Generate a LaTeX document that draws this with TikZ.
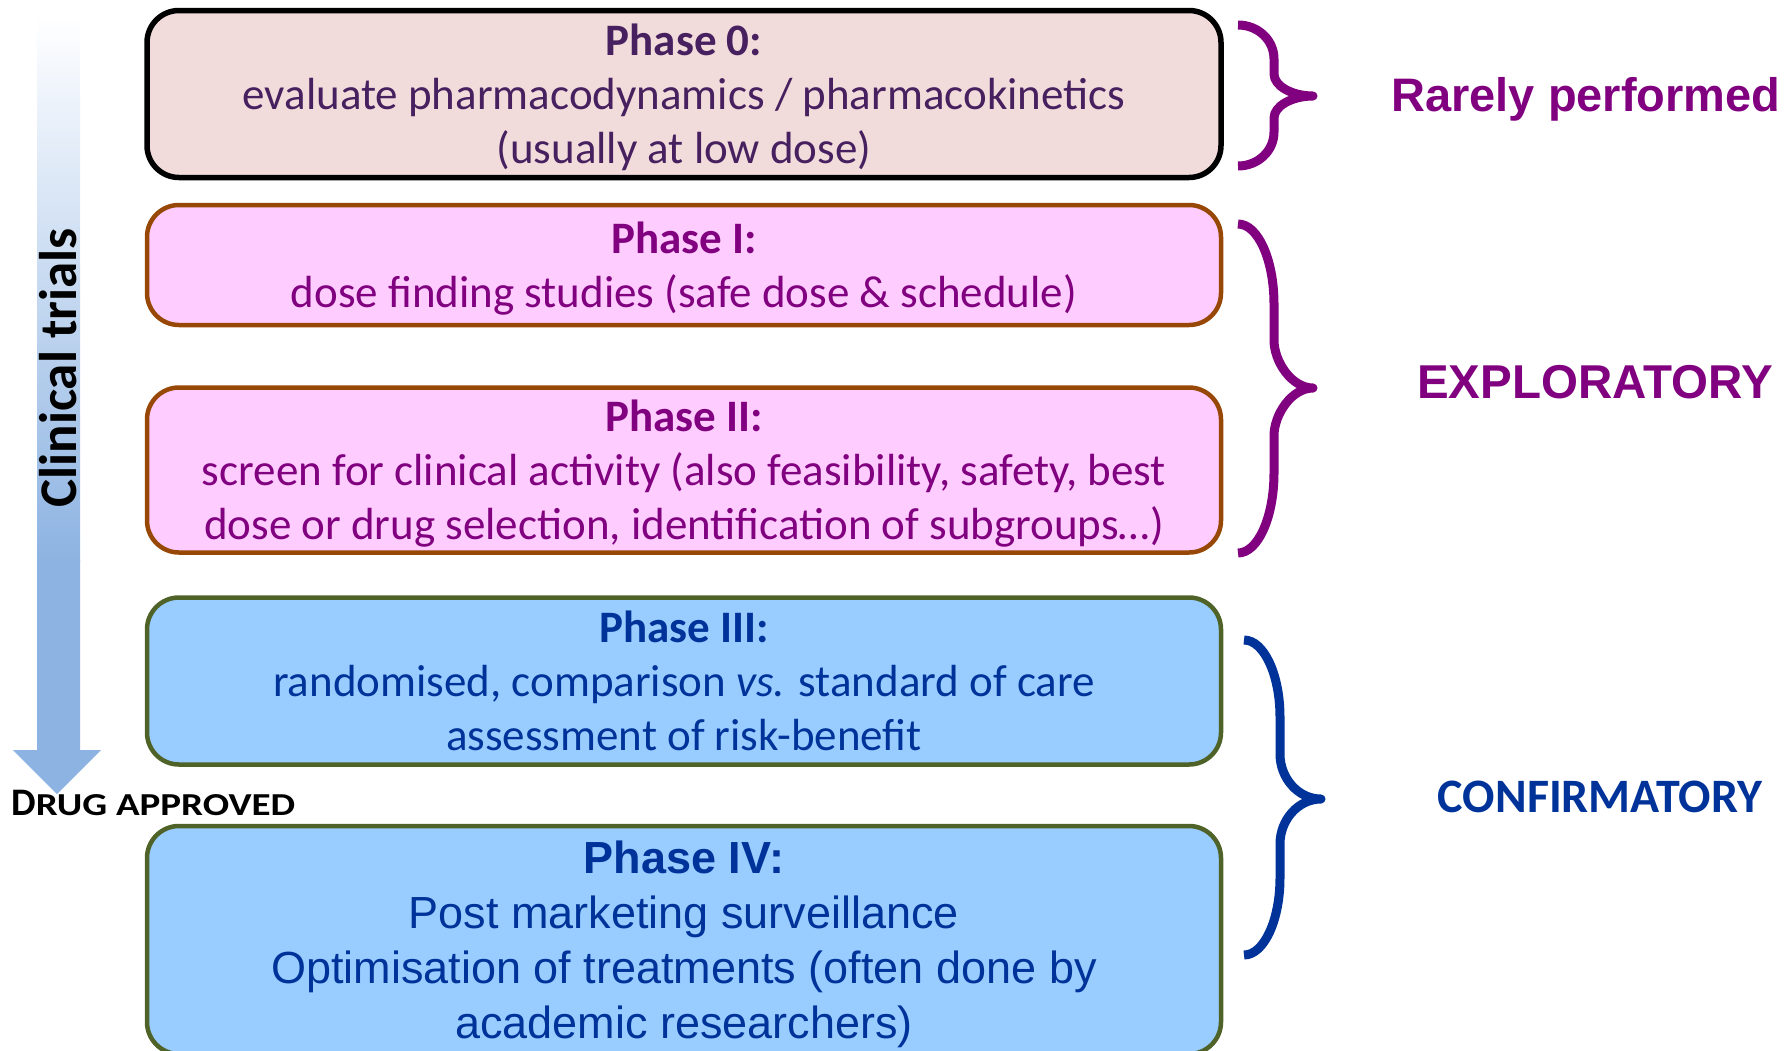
\documentclass[tikz,border=0pt]{standalone}
\usepackage{fontspec}
\usepackage{graphicx}
\setmainfont{Carlito}
\newfontfamily\arialfont{Liberation Sans}

\definecolor{zerofill}{HTML}{F2DCDB}
\definecolor{zerotext}{HTML}{47205F}
\definecolor{explorefill}{HTML}{FFCCFF}
\definecolor{explorebrown}{HTML}{984806}
\definecolor{explorepurple}{HTML}{800080}
\definecolor{confirmfill}{HTML}{99CCFF}
\definecolor{confirmgreen}{HTML}{4F6228}
\definecolor{confirmblue}{HTML}{003399}
\definecolor{arrowblue}{HTML}{8DB3E2}

\begin{document}
\begin{tikzpicture}[x=1pt, y=-1pt, box_style/.style={rectangle,rounded corners=32pt,minimum width=1074pt,inner sep=0pt,text depth=0pt,align=center,font=\fontsize{45}{54}\selectfont},phase_zero_style/.style={box_style,draw=black,line width=5.5pt,fill=zerofill,text=zerotext},explore_style/.style={box_style,draw=explorebrown,line width=4.5pt,fill=explorefill,text=explorepurple},confirm_style/.style={box_style,draw=confirmgreen,line width=4.5pt,fill=confirmfill,text=confirmblue},brace_style/.style={line width=9pt,line join=round},label_style/.style={anchor=base,inner sep=0pt,font=\arialfont\bfseries\fontsize{47}{47}\selectfont}]
      \clip (0,0) rectangle (1789,1050);
      % trials arrow
      \fill[arrowblue] (37,560) -- (37,750) -- (13,750) -- (57,794) -- (101,750) -- (80,750) -- (80,560) -- cycle;
      \shade[top color=white, bottom color=arrowblue] (37,15) rectangle (80,561);
      \node[rotate=90, font=\bfseries\fontsize{53}{53}\selectfont] (trials) at (58,368) {Clinical trials};
      \node[anchor=base west, inner sep=0pt, font=\bfseries] (approved) at (11,815) {\fontsize{39}{39}\selectfont D\fontsize{32}{32}\selectfont\scalebox{1.22}[1]{RUG APPROVED}};
      % phases
      \draw
        (684,94) node[phase_zero_style, minimum height=167pt] (phase0) {\textbf{Phase 0:}\\evaluate pharmacodynamics / pharmacokinetics\\(usually at low dose)}
        (684,265) node[explore_style, minimum height=120pt] (phase1) {\textbf{Phase I:}\\dose finding studies (safe dose \& schedule)}
        (684,470) node[explore_style, minimum height=165pt] (phase2) {\textbf{Phase II:}\\screen for clinical activity (also feasibility, safety, best\\dose or drug selection, identification of subgroups…)}
        (684,681) node[confirm_style, minimum height=167pt] (phase3) {\textbf{Phase III:}\\randomised, comparison \textit{vs.} standard of care\\assessment of risk-benefit}
        (684,940) node[confirm_style, minimum height=228pt, font=\arialfont\fontsize{45}{55}\selectfont] (phase4) {\textbf{Phase IV:}\\Post marketing surveillance\\Optimisation of treatments (often done by\\academic researchers)};
      % braces
      \draw[brace_style, explorepurple] (1238,25) .. controls (1258,25) and (1274,40) .. (1274,59) -- (1274,74) .. controls (1274,86) and (1292,96) .. (1313,96) .. controls (1292,96) and (1274,106) .. (1274,118) -- (1274,132) .. controls (1274,151) and (1258,166) .. (1238,166);
      \draw[brace_style, explorepurple] (1238,224) .. controls (1258,224) and (1274,260) .. (1274,304) -- (1274,340) .. controls (1274,362) and (1292,388) .. (1313,388) .. controls (1292,388) and (1274,414) .. (1274,436) -- (1274,473) .. controls (1274,517) and (1258,553) .. (1238,553);
      \draw[brace_style, confirmblue] (1244,640) .. controls (1264,640) and (1280,675) .. (1280,717) -- (1280,754) .. controls (1280,778) and (1298,799) .. (1321,799) .. controls (1298,799) and (1280,820) .. (1280,844) -- (1280,878) .. controls (1280,920) and (1264,955) .. (1244,955);
      % group labels
      \node[label_style, text=explorepurple] (rarely) at (1586,111) {Rarely performed};
      \node[label_style, text=explorepurple, font=\arialfont\bfseries\fontsize{47.5}{47.5}\selectfont] (exploratory) at (1595,398) {EXPLORATORY};
      \node[label_style, text=confirmblue, font=\bfseries\fontsize{48}{48}\selectfont] (confirmatory) at (1600,812) {CONFIRMATORY};
    \end{tikzpicture}
\end{document}
